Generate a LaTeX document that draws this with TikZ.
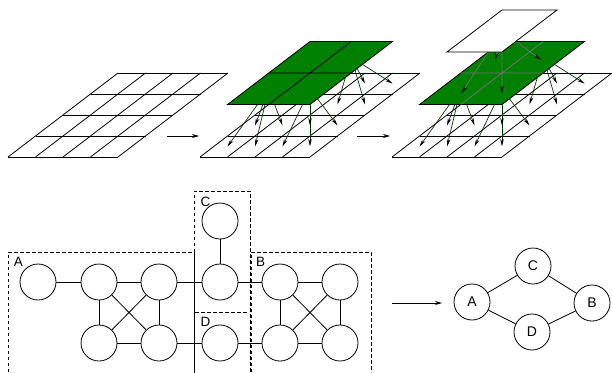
\documentclass[tikz,border=0pt]{standalone}
\usepackage{fontspec}
\setmainfont{Liberation Sans}
\usetikzlibrary{arrows.meta}
\definecolor{plategreen}{RGB}{0,128,0}
\definecolor{arrgreen}{RGB}{0,60,0}
\tikzset{
  gridline/.style={draw=black, line width=0.8pt},
  downarrow/.style={draw=arrgreen, line width=0.7pt, -{Stealth[length=7.5pt,width=3.5pt,color=black]}},
  greyarrow/.style={draw=black!55, line width=0.7pt, -{Stealth[length=7.5pt,width=3.5pt,color=black]}},
  plate/.style={fill=plategreen, draw=black, line width=0.8pt},
  whiteplate/.style={fill=white, draw=black, line width=0.8pt},
  flowarrow/.style={draw=black, line width=0.7pt, -{Stealth[length=7pt,width=4pt]}},
  vertex/.style={circle, draw=black, fill=white, line width=0.8pt, minimum size=36pt, inner sep=0pt, font=\fontsize{14}{16}\selectfont},
  edge/.style={draw=black, line width=0.8pt},
  groupbox/.style={draw=black, line width=0.7pt, dash pattern=on 3.5pt off 2.5pt},
  boxlabel/.style={inner sep=0pt, font=\fontsize{13.5}{15}\selectfont}
}
\newcommand{\finegrid}{%
  \foreach \k in {0,...,4} {
    \draw[gridline] (\k,0) -- (\k,4);
    \draw[gridline] (0,\k) -- (4,\k);
  }}
\newcommand{\finearrows}{%
  \foreach \a/\b in {0/0,1/0,0/1,1/1} {
    \foreach \p/\q in {0/0,1/0,0/1,1/1} {
      \draw[downarrow] ({-0.75+1.5*\a},{3.25+1.5*\b}) -- ({2*\a+\p+0.5},{2*\b+\q+0.5});
    }
  }}
\newcommand{\greenplate}[1]{%
  \filldraw[plate] (-1.5,2.5) -- (1.5,2.5) -- (1.5,5.5) -- (-1.5,5.5) -- cycle;
  \draw[draw=#1, line width=0.8pt] (0,2.5) -- (0,5.5) (-1.5,4) -- (1.5,4);
}
\begin{document}
\begin{tikzpicture}[x=1pt,y=-1pt]
\useasboundingbox (0,0) rectangle (612,372);

% ---- layer 1
\begin{scope}[shift={(8,157)}, x={(27.5pt,0pt)}, y={(27.5pt,21pt)}]
  \finegrid
\end{scope}

% ---- layer 2
\begin{scope}[shift={(200,157)}, x={(27.5pt,0pt)}, y={(27.5pt,21pt)}]
  \finegrid
  \finearrows
  \greenplate{black}
\end{scope}

% ---- layer 3
\begin{scope}[shift={(392,157)}, x={(27.5pt,0pt)}, y={(27.5pt,21pt)}]
  \finegrid
  \finearrows
  \greenplate{black!55}
  \coordinate (wc) at (-2,6);
  \coordinate (t1) at (-0.52,3.05);
  \coordinate (t2) at (0.95,3.05);
  \coordinate (t3) at (-0.87,4.62);
  \coordinate (t4) at (0.8,4.62);
  \foreach \t in {t1,t2,t3,t4} { \draw[greyarrow] (wc) -- (\t); }
  \filldraw[whiteplate] (-3,5) -- (-1,5) -- (-1,7) -- (-3,7) -- cycle;
\end{scope}

% ---- arrows between layers
\coordinate (h1s) at (167,136);
\coordinate (h1e) at (199,136);
\coordinate (h2s) at (357,136);
\coordinate (h2e) at (390,136);
\draw[flowarrow] (h1s) -- (h1e);
\draw[flowarrow] (h2s) -- (h2e);

% ---- partition boxes
\draw[groupbox] (8,372) -- (8,252) -- (194.5,252) -- (194.5,372);
\draw[groupbox] (194,372) -- (194,191) -- (250,191) -- (250,372);
\draw[groupbox] (195,312) -- (249,312);
\draw[groupbox] (251,372) -- (251,252) -- (371,252) -- (371,372);
\node[boxlabel] (lA) at (18.5,262) {A};
\node[boxlabel] (lC) at (205.5,202) {C};
\node[boxlabel] (lB) at (260.5,262) {B};
\node[boxlabel] (lD) at (205.5,322) {D};

% ---- fine graph
\node[vertex] (a)  at (38,282) {};
\node[vertex] (p1) at (99,282) {};
\node[vertex] (p2) at (159,282) {};
\node[vertex] (p3) at (99,343) {};
\node[vertex] (p4) at (159,343) {};
\node[vertex] (c)  at (220,221) {};
\node[vertex] (m)  at (220,282) {};
\node[vertex] (d)  at (220,343) {};
\node[vertex] (b1) at (280,282) {};
\node[vertex] (b2) at (340,282) {};
\node[vertex] (b3) at (280,343) {};
\node[vertex] (b4) at (340,343) {};
\foreach \u/\v in {a/p1,p1/p2,p2/m,m/b1,b1/b2,p1/p3,p2/p4,p1/p4,p2/p3,p3/p4,p4/d,d/b3,c/m,b1/b3,b2/b4,b1/b4,b2/b3,b3/b4}
  \draw[edge] (\u) -- (\v);

% ---- coarse graph
\coordinate (g1) at (392,303);
\coordinate (g2) at (442,303);
\draw[flowarrow] (g1) -- (g2);
\node[vertex] (A) at (472,302) {A};
\node[vertex] (C) at (533,266) {C};
\node[vertex] (B) at (592,303) {B};
\node[vertex] (D) at (532,332) {D};
\draw[edge] (A) -- (C);
\draw[edge] (C) -- (B);
\draw[edge] (A) -- (D);
\draw[edge] (D) -- (B);
\end{tikzpicture}
\end{document}
